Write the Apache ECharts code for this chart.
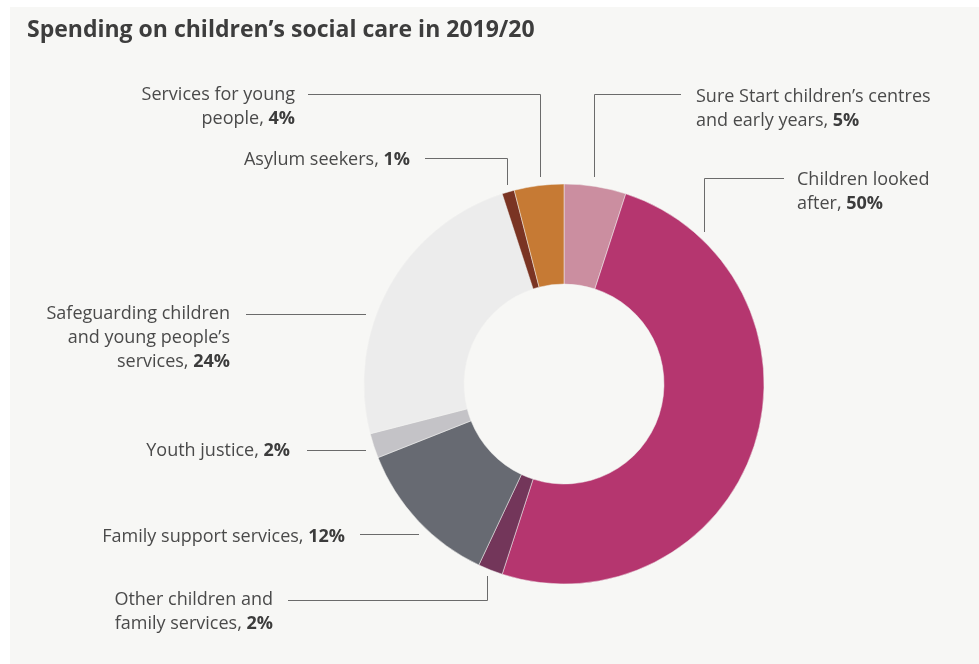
<!DOCTYPE html>
<html>
<head>
<meta charset="utf-8">
<title>Spending on children's social care in 2019/20</title>
<script src="https://cdn.jsdelivr.net/npm/echarts@6/dist/echarts.min.js"></script>
<style>
  html, body { margin: 0; padding: 0; background: #ffffff; }
  #chart { width: 979px; height: 664px; }
</style>
</head>
<body>
<div id="chart"></div>
<script>
// Share of 2019/20 children's social care spending, clockwise from 12 o'clock
const categories = [
  'Sure Start children\u2019s centres and early years',
  'Children looked after',
  'Other children and family services',
  'Family support services',
  'Youth justice',
  'Safeguarding children and young people\u2019s services',
  'Asylum seekers',
  'Services for young people'
];
const shares = [5, 50, 2, 12, 2, 24, 1, 4];
// How each category name wraps in its label
const labelLines = [
  ['Sure Start children\u2019s centres', 'and early years,'],
  ['Children looked', 'after,'],
  ['Other children and', 'family services,'],
  ['Family support services,'],
  ['Youth justice,'],
  ['Safeguarding children', 'and young people\u2019s', 'services,'],
  ['Asylum seekers,'],
  ['Services for young', 'people,']
];
const colors = ['#cb8ea0', '#b5366f', '#73365a', '#676a72', '#c4c3c7', '#ececec', '#7a3423', '#c67a34'];

// Where each label sits and how its leader line runs to the ring
const labelPlacement = [
  { align: 'left',  x: 696, y: 108.5, line: [[681, 94.5], [594.5, 94.5], [594.5, 177]] },
  { align: 'left',  x: 797, y: 191.5, line: [[784, 178.5], [704.5, 178.5], [704.5, 232]] },
  { align: 'right', x: 273, y: 612, line: [[288, 600.5], [487.5, 600.5], [487.5, 576]] },
  { align: 'right', x: 345, y: 537, line: [[360, 534.5], [419, 534.5]] },
  { align: 'right', x: 290, y: 451, line: [[307, 450.5], [366, 450.5]] },
  { align: 'right', x: 230, y: 338, line: [[246, 314.5], [366, 314.5]] },
  { align: 'right', x: 410, y: 160, line: [[425, 158.5], [507.5, 158.5], [507.5, 185]] },
  { align: 'right', x: 295, y: 106.5, line: [[308, 94.5], [540.5, 94.5], [540.5, 177]] }
];

const FONT = '"Open Sans"';
const TEXT = '#4a4a4a';

function labelFor(i) {
  const lines = labelLines[i];
  const pct = shares[i] + '%';
  const parts = lines.map(function (t, k) {
    if (k === lines.length - 1) return '{n|' + t + ' }{b|' + pct + '}';
    return '{n|' + t + '}';
  });
  const a = labelPlacement[i].align;
  return {
    formatter: parts.join('\n'),
    rich: {
      n: { fontFamily: FONT, fontSize: 18, color: TEXT, lineHeight: 24, align: a },
      b: { fontFamily: FONT, fontSize: 18, fontWeight: 'bold', color: '#3c3c3c', lineHeight: 24, align: a }
    }
  };
}

const data = categories.map(function (name, i) {
  return {
    name: name,
    value: shares[i],
    itemStyle: { color: colors[i] },
    label: labelFor(i)
  };
});

const chart = echarts.init(document.getElementById('chart'), null, { renderer: 'canvas' });
chart.setOption({
  backgroundColor: '#ffffff',
  animation: false,
  graphic: [{
    type: 'rect',
    z: -10,
    silent: true,
    shape: { x: 10, y: 7, width: 979, height: 664 },
    style: { fill: '#f7f7f5' }
  }],
  title: {
    text: 'Spending on children\u2019s social care in 2019/20',
    left: 27,
    top: 19,
    padding: 0,
    textStyle: { fontFamily: FONT, fontSize: 23, fontWeight: 'bold', color: '#3d3d3d' }
  },
  series: [{
    type: 'pie',
    center: [564, 384],
    radius: [100, 200],
    startAngle: 90,
    clockwise: true,
    silent: true,
    emphasis: { disabled: true },
    itemStyle: { borderColor: '#f2f2f0', borderWidth: 0.5 },
    label: { show: true, position: 'outside' },
    labelLine: { show: true, lineStyle: { color: '#6b6b6b', width: 1 } },
    labelLayout: function (params) {
      const p = labelPlacement[params.dataIndex];
      return {
        x: p.x,
        y: p.y,
        align: p.align,
        verticalAlign: 'middle',
        labelLinePoints: p.line
      };
    },
    data: data
  }]
});
</script>
</body>
</html>
